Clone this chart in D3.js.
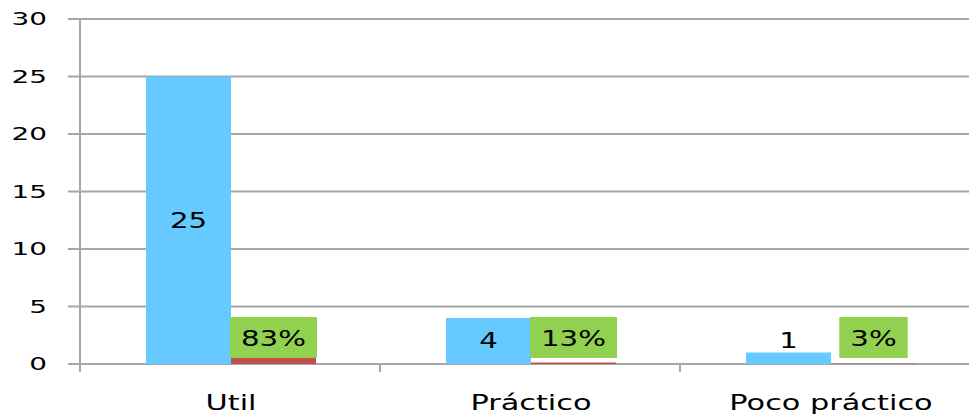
<!DOCTYPE html>
<html>
<head>
<meta charset="utf-8">
<script src="https://cdn.jsdelivr.net/npm/d3@7"></script>
<style>
  body { margin: 0; background: #fff; }
  text { font-family: "DejaVu Sans", Verdana, sans-serif; fill: #000; }
</style>
</head>
<body>
<div id="wrap"></div>
<script>
// data
const categories = ["Util", "Práctico", "Poco práctico"];
const counts = [25, 4, 1];
const shares = [0.83, 0.13, 0.03];
const shareLabels = ["83%", "13%", "3%"];
const yTicks = [0, 5, 10, 15, 20, 25, 30];

const W = 969, H = 416;
const margin = {top: 19, left: 80, bottom: 52};

const svg = d3.select("#wrap").append("svg")
    .attr("width", W)
    .attr("height", H);

// scales
const x = d3.scaleBand().domain(categories).range([81, 981]).padding(0);
const y = d3.scaleLinear().domain([0, 30]).range([H - margin.bottom, margin.top]);
const barW = 85;
const grid = "#a6a6a6";

// the source picture is stretched sideways, so the text is too
function place(sel, fx, fy, sx) {
  sel.attr("transform", (d, i) => "translate(" + fx(d, i) + "," + fy(d, i) + ") scale(" + sx + ",1)");
}

// gridlines + y tick marks
svg.append("g").selectAll("line")
    .data(yTicks)
  .enter().append("line")
    .attr("x1", 68).attr("x2", W)
    .attr("y1", d => y(d)).attr("y2", d => y(d))
    .attr("stroke", grid).attr("stroke-width", 2);

// y axis line
svg.append("line")
    .attr("x1", margin.left).attr("x2", margin.left)
    .attr("y1", y(30)).attr("y2", y(0) + 8)
    .attr("stroke", grid).attr("stroke-width", 2);

// category dividers below the axis
svg.append("g").selectAll("line")
    .data(categories.slice(1))
  .enter().append("line")
    .attr("x1", d => x(d) - 1).attr("x2", d => x(d) - 1)
    .attr("y1", y(0)).attr("y2", y(0) + 8)
    .attr("stroke", grid).attr("stroke-width", 2);

// y tick labels
const yl = svg.append("g").selectAll("text")
    .data(yTicks)
  .enter().append("text")
    .attr("dy", "0.36em")
    .attr("text-anchor", "end")
    .style("font-size", "18px")
    .text(d => d);
place(yl, () => 47, d => y(d), 1.55);

const center = d => x(d) + x.bandwidth() / 2;

// blue bars (counts)
svg.append("g").selectAll("rect")
    .data(categories)
  .enter().append("rect")
    .attr("x", d => center(d) - barW)
    .attr("width", barW)
    .attr("y", (d, i) => y(counts[i]))
    .attr("height", (d, i) => y(0) - y(counts[i]))
    .attr("fill", "#66c9ff");

// red bars (shares)
svg.append("g").selectAll("rect")
    .data(categories)
  .enter().append("rect")
    .attr("x", d => center(d))
    .attr("width", barW)
    .attr("y", (d, i) => y(shares[i]))
    .attr("height", (d, i) => y(0) - y(shares[i]))
    .attr("fill", "#c0504d");

// count labels
const cl = svg.append("g").selectAll("text")
    .data(categories)
  .enter().append("text")
    .attr("dy", "0.36em")
    .attr("text-anchor", "middle")
    .style("font-size", "22px")
    .text((d, i) => counts[i]);
place(cl, d => center(d) - barW / 2,
  (d, i) => Math.min((y(counts[i]) + y(0)) / 2, y(0) - 24), 1.33);

// share labels on green boxes
const sl = svg.append("g").selectAll("g")
    .data(categories)
  .enter().append("g");

const st = sl.append("text")
    .attr("dy", "0.36em")
    .attr("text-anchor", "middle")
    .style("font-size", "22px")
    .text((d, i) => shareLabels[i]);
place(st, d => center(d) + barW / 2, () => y(0) - 26, 1.33);

sl.each(function() {
  const g = d3.select(this);
  const bb = g.select("text").node().getBoundingClientRect();
  const w = Math.max(bb.width + 22, 60);
  g.insert("rect", "text")
      .attr("x", bb.x + bb.width / 2 - w / 2)
      .attr("width", w)
      .attr("y", y(0) - 47)
      .attr("height", 41)
      .attr("fill", "#92d050");
});

// category labels
const xl = svg.append("g").selectAll("text")
    .data(categories)
  .enter().append("text")
    .attr("text-anchor", "middle")
    .style("font-size", "22px")
    .text(d => d);
place(xl, d => center(d), () => 410, 1.38);
</script>
</body>
</html>
